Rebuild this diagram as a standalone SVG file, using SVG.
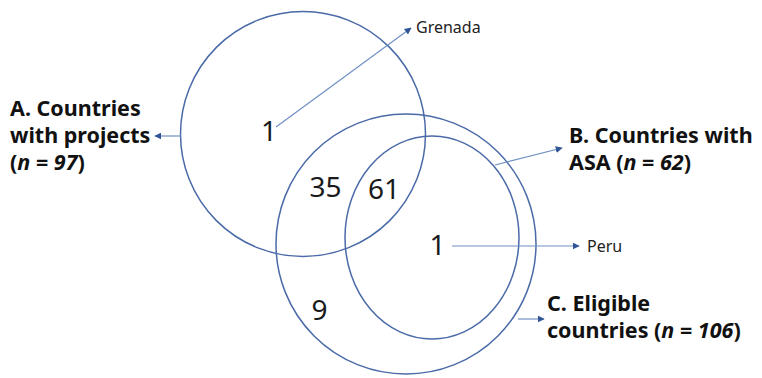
<svg xmlns="http://www.w3.org/2000/svg" width="762" height="378" viewBox="0 0 762 378">
<defs>
<style>
.ring{fill:none;stroke:#4a6aa8;stroke-width:1.5}
.conn{stroke:#7090c4;stroke-width:1.2;fill:none}
.num{font-family:"Noto Sans","Open Sans",sans-serif;font-size:28px;fill:#1a1a1a;text-anchor:middle}
.small{font-family:"Noto Sans","Open Sans",sans-serif;font-size:16px;fill:#222}
.lbl{font-family:"Noto Sans","Open Sans",sans-serif;font-size:21.5px;font-weight:bold;fill:#111}
.it{font-style:italic}
</style>
<marker id="ah" viewBox="0 0 10 10" refX="9" refY="5" markerWidth="7" markerHeight="7" markerUnits="userSpaceOnUse" orient="auto">
<path d="M0,0 L10,5 L0,10 z" fill="#2f5597"/>
</marker>
</defs>
<rect width="762" height="378" fill="#fff"/>
<g id="setA">
<circle class="ring" cx="303" cy="134" r="122.5"/>
<text class="lbl" x="10" y="116">A. Countries</text>
<text class="lbl" x="10" y="143">with projects</text>
<text class="lbl" x="10" y="170">(<tspan class="it">n</tspan> = <tspan class="it">97</tspan>)</text>
</g>
<g id="setC">
<circle class="ring" cx="406" cy="244" r="130"/>
<text class="lbl" x="547" y="311">C. Eligible</text>
<text class="lbl" x="547" y="338">countries (<tspan class="it">n</tspan> = <tspan class="it">106</tspan>)</text>
</g>
<g id="setB">
<ellipse class="ring" cx="432" cy="237.5" rx="87" ry="101.5"/>
<text class="lbl" x="569" y="143">B. Countries with</text>
<text class="lbl" x="569" y="170">ASA (<tspan class="it">n</tspan> = <tspan class="it">62</tspan>)</text>
</g>
<g id="counts">
<text class="num" x="269" y="141">1</text>
<text class="num" x="325.5" y="197">35</text>
<text class="num" x="384" y="199">61</text>
<text class="num" x="437.5" y="255">1</text>
<text class="num" x="319.5" y="320">9</text>
</g>
<g id="grenada"><text class="small" x="416" y="33">Grenada</text></g>
<g id="peru"><text class="small" x="587" y="252">Peru</text></g>
<g id="connectors">
<line class="conn" x1="276" y1="127" x2="411" y2="28" marker-end="url(#ah)"/>
<line class="conn" x1="181" y1="136" x2="155" y2="136" marker-end="url(#ah)"/>
<line class="conn" x1="495" y1="165" x2="562" y2="148" marker-end="url(#ah)"/>
<line class="conn" x1="452" y1="246" x2="579" y2="246" marker-end="url(#ah)"/>
<line class="conn" x1="518" y1="319" x2="544" y2="319" marker-end="url(#ah)"/>
</g>
</svg>
